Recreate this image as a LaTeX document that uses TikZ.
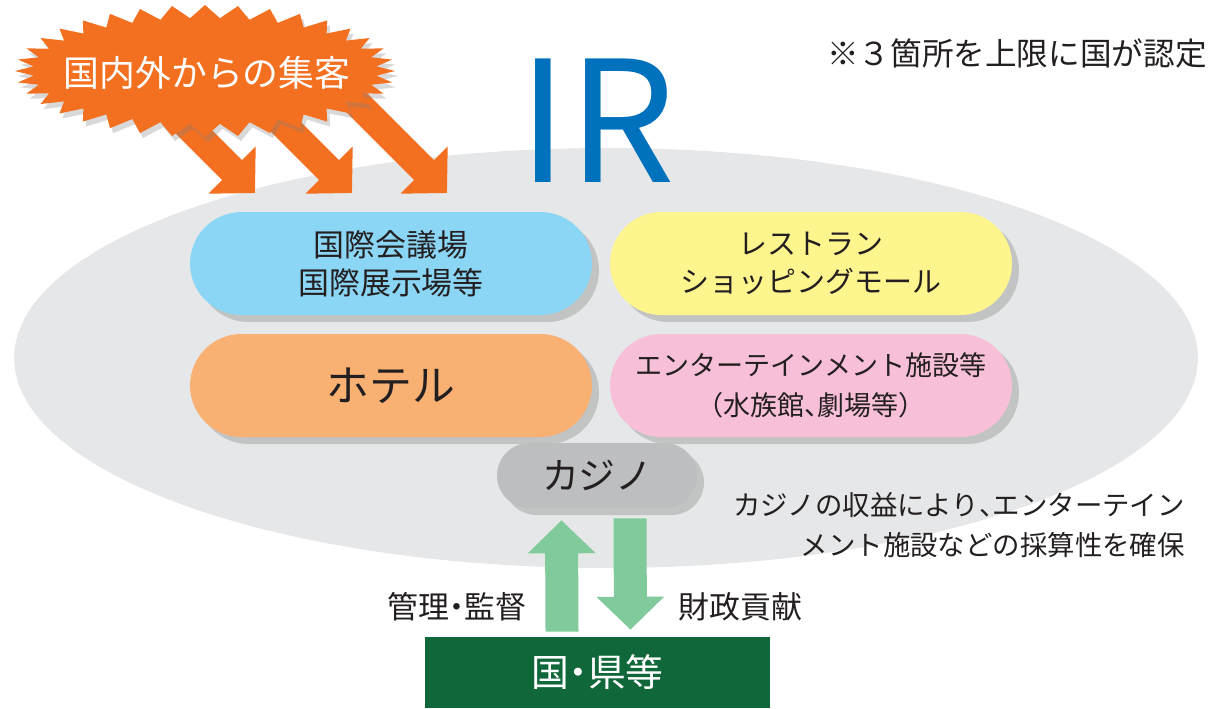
\documentclass[tikz,border=0pt]{standalone}
\usepackage{fontspec}
\setmainfont{Noto Sans CJK JP}
\newfontfamily\halfpunct[RawFeature=+halt]{Noto Sans CJK JP}
\newcommand\hw[1]{{\halfpunct #1}}
\usepackage{xcolor}
\usepackage{tikz}
\usetikzlibrary{
  positioning,
  arrows.meta,
  shapes.misc,
  shadows
}

\definecolor{irblue}{HTML}{0071BC}
\definecolor{burst}{HTML}{F37021}
\definecolor{ovalgray}{HTML}{E6E7E8}
\definecolor{pillblue}{HTML}{8CD6F5}
\definecolor{pillyellow}{HTML}{FFF58E}
\definecolor{pillorange}{HTML}{F9B073}
\definecolor{pillpink}{HTML}{F7BFD8}
\definecolor{pillgray}{HTML}{BDBEC0}
\definecolor{arrgreen}{HTML}{80CA9B}
\definecolor{boxgreen}{HTML}{10673A}
\definecolor{txt}{HTML}{231F20}

\tikzset{
  pill/.style={rounded rectangle, minimum width=8.04cm, minimum height=2.06cm,
    text=txt, align=center, inner sep=0pt,
    drop shadow={shadow xshift=0.14cm, shadow yshift=-0.14cm, opacity=0.35}},
  bigarr/.style={draw=burst, line width=0.56cm,
    -{Triangle[length=0.65cm,width=1.3cm]}},
  flowarr/.style={draw=arrgreen, line width=0.66cm,
    -{Triangle[length=0.66cm,width=1.32cm]}},
  note/.style={text=txt, inner sep=0pt}
}

\begin{document}
\begin{tikzpicture}[x=0.02cm,y=-0.02cm]
  \useasboundingbox (0,0) rectangle (1214,708);

  % 背景の楕円
  \fill[ovalgray] (606,358) ellipse [x radius=11.84cm, y radius=4.2cm];

  % 集客の矢印 (3本)
  \foreach \tx [count=\i] in {255,352,447}{
    \coordinate (from_\i) at (\tx-133,60);
    \coordinate (to_\i) at (\tx,193);
    \draw[bigarr] (from_\i) -- (to_\i);
  }

  % ギザギザの吹き出し (36個のとげ)
  \fill[burst, drop shadow={shadow xshift=0.06cm, shadow yshift=-0.1cm, opacity=0.3}]
    plot[samples=73, domain=0:360, variable=\a]
    ({205+(190-18*mod(round(\a/360*72),2))*cos(\a)},
     {71+(66-13*mod(round(\a/360*72),2))*sin(\a)}) -- cycle;
  \node[text=white, inner sep=0pt, font=\fontsize{20.4}{24}\selectfont]
    (burst) at (207,73) {国内外からの集客};

  \node[text=irblue, anchor=base, inner sep=0pt,
    font=\fontsize{96}{96}\selectfont] (ir) at (597,182) {IR};

  \node[note, anchor=east, font=\fontsize{18}{20}\selectfont] (limit)
    at (1207,53) {※３箇所を上限に国が認定};

  % 施設
  \node[pill, fill=pillblue, font=\fontsize{17.6}{21.5}\selectfont]
    (mice) at (391,263.5) {国際会議場\\国際展示場等};
  \node[pill, fill=pillyellow, font=\fontsize{16.5}{21.5}\selectfont]
    (shop) at (811,263.5) {レストラン\\ショッピングモール};
  \node[pill, fill=pillorange, font=\fontsize{24.4}{28}\selectfont]
    (hotel) at (391,385.5) {ホテル};
  \node[pill, fill=pillpink, font=\fontsize{15.4}{22.7}\selectfont]
    (ent) at (811,385.5) {エンターテインメント施設等\\（水族館\hw{、}劇場等）};
  \node[pill, fill=pillgray, minimum width=4cm, minimum height=1.3cm,
    font=\fontsize{21}{24}\selectfont] (casino) at (597,475.5) {カジノ};

  \node[note, anchor=east, align=right, font=\fontsize{15.6}{22.7}\selectfont]
    (profit) at (1185,525) {カジノの収益により\hw{、}エンターテイン\\メント施設などの採算性を確保};

  % 国・県等
  \node[fill=boxgreen, text=white, minimum width=6.9cm, minimum height=1.42cm,
    inner sep=0pt, font=\fontsize{21.5}{24}\selectfont] (kuni) at (597.5,672.5)
    {国\hw{・}県等};

  \draw[flowarr] ([xshift=-0.71cm,yshift=0.1cm]kuni.north)
    -- ([xshift=-0.71cm,yshift=-0.24cm]casino.south);
  \draw[flowarr] ([xshift=0.66cm,yshift=-0.2cm]casino.south)
    -- ([xshift=0.66cm,yshift=0.14cm]kuni.north);

  \node[note, anchor=east, font=\fontsize{17.6}{20}\selectfont] (kanri)
    at (527,607) {管理\hw{・}監督};
  \node[note, anchor=west, font=\fontsize{17.6}{20}\selectfont] (zaisei)
    at (678,607) {財政貢献};
\end{tikzpicture}
\end{document}
